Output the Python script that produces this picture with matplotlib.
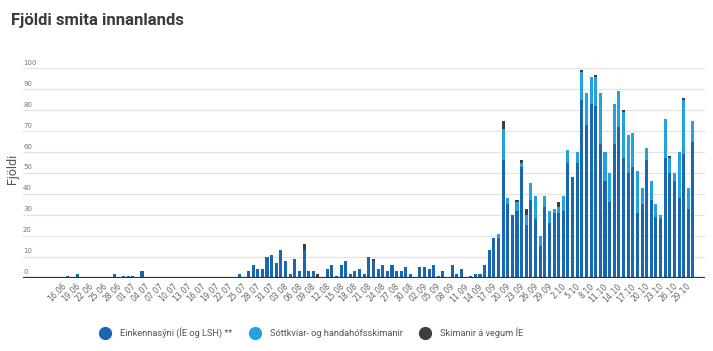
import matplotlib
matplotlib.use("Agg")
import matplotlib.pyplot as plt
from matplotlib.lines import Line2D
import numpy as np
import pandas as pd

# ---- data -----------------------------------------------------------------
dates = pd.date_range("2020-06-16", "2020-10-29", freq="D")  # categories (136 days)

# Einkennasýni (ÍE og LSH) **
einkenna = [
    1, 0, 2, 0, 0, 0, 0, 0, 0, 0, 2, 0, 1, 1, 1, 0, 3, 0, 0, 0,   # 0-19
    0, 0, 0, 0, 0, 0, 0, 0, 0, 0, 0, 0, 0, 0, 0, 0, 0, 2, 0, 3,   # 20-39
    6, 4, 4, 10, 11, 7, 13, 8, 2, 9, 3, 13, 3, 3, 0, 0, 4, 6, 1, 6,  # 40-59
    8, 2, 3, 4, 2, 10, 8, 4, 6, 3, 6, 3, 3, 5, 2, 0, 5, 5, 4, 6,  # 60-79
    1, 3, 0, 6, 2, 4, 0, 1, 2, 2, 6, 13, 19, 19, 56, 35, 30, 32, 53, 25,  # 80-99
    37, 28, 15, 34, 26, 31, 31, 32, 55, 48, 55, 85, 73, 83, 82, 64, 46, 36, 64, 72,  # 100-119
    57, 50, 53, 31, 35, 56, 37, 29, 28, 57, 50, 46, 38, 59, 33, 65,  # 120-135
]
# Sóttkvíar- og handahófsskimanir
sottkvi = [0] * 93 + [
    2, 15, 3, 0, 4, 2, 5, 8, 11, 5, 5, 6, 2, 3, 7, 6, 0, 5, 13, 15,  # 93-112
    13, 14, 24, 14, 14, 19, 17, 22, 18, 16, 20, 8, 6, 9, 6, 2, 19, 7, 4, 22,  # 113-132
    26, 10, 10,  # 133-135
]
# Skimanir á vegum ÍE
ie_idx = [51, 54, 66, 94, 97, 98, 99, 106, 111, 114, 120, 130, 133]
ie_val = [3, 2, 1, 4, 1, 1, 3, 2, 1, 1, 1, 1, 1]

tick_labels = [
    "16.06", "19.06", "22.06", "25.06", "28.06", "01.07", "04.07", "07.07",
    "10.07", "13.07", "16.07", "19.07", "22.07", "25.07", "28.07", "31.07",
    "03.08", "06.08", "09.08", "12.08", "15.08", "18.08", "21.08", "24.08",
    "27.08", "30.08", "02.09", "05.09", "08.09", "11.09", "14.09", "17.09",
    "20.09", "23.09", "26.09", "29.09", "2.10", "5.10", "8.10", "11.10",
    "14.10", "17.10", "20.10", "23.10", "26.10", "29.10",
]
y_ticks = [0, 10, 20, 30, 40, 50, 60, 70, 80, 90, 100]

series_names = ["Einkennasýni (ÍE og LSH) **", "Sóttkvíar- og handahófsskimanir",
                "Skimanir á vegum ÍE"]
colors = ["#1767b3", "#22a2e0", "#3e3e3e"]

# ---- build ----------------------------------------------------------------
n = len(dates)
x = np.arange(n)
a = np.array(einkenna, dtype=float)
b = np.array(sottkvi, dtype=float)
c = np.zeros(n)
c[ie_idx] = ie_val

W, H = 713, 351
fig = plt.figure(figsize=(W / 100, H / 100), dpi=100)
left, right = 23 / W, 705 / W
bottom, top = (H - 277.7) / H, (H - 68.3) / H
ax = fig.add_axes([left, bottom, right - left, top - bottom])

bw = 0.66
ax.bar(x, a, width=bw, color=colors[0], zorder=3, linewidth=0)
ax.bar(x, b, width=bw, bottom=a, color=colors[1], zorder=3, linewidth=0)
ax.bar(x, c, width=bw, bottom=a + b, color=colors[2], zorder=3, linewidth=0)

ax.set_xlim(-9.7, 137.6)
ax.set_ylim(0, 100)

for s in ax.spines.values():
    s.set_visible(False)

ax.set_yticks(y_ticks)
ax.set_yticklabels([])
ax.tick_params(axis="y", length=0)
ax.grid(axis="y", color="#e3e3e3", linewidth=0.9, zorder=0)
ax.axhline(0, color="#333333", linewidth=1.6, zorder=4)
ytr = ax.get_yaxis_transform()
for v in y_ticks:
    ax.text(0.0, v + 1.2, str(v), transform=ytr, ha="left", va="bottom",
            fontsize=5, color="#777777")

ax.set_xticks(x[::3])
ax.set_xticklabels(tick_labels, rotation=45, ha="right", fontsize=5.6,
                   color="#666666")
ax.tick_params(axis="x", length=0, pad=3)

fig.text(11 / W, 1 - 20 / H, "Fjöldi smita innanlands", fontsize=12,
         fontweight="bold", color="#3a3a3a", ha="left", va="center",
         family="Roboto")
fig.text(12 / W, 1 - 169 / H, "Fjöldi", rotation=90, fontsize=9,
         color="#555555", ha="center", va="center", family="Roboto")

handles = [Line2D([], [], marker="o", linestyle="", markersize=8.5,
                  markerfacecolor=col, markeredgecolor=col) for col in colors]
fig.legend(handles, series_names, loc="center", bbox_to_anchor=(0.434, 1 - 333 / H),
           ncol=3, frameon=False, handletextpad=0.6, columnspacing=1.4,
           prop={"family": "Roboto", "size": 6.7}, labelcolor="#555555")

fig.savefig("out.png", dpi=100)
